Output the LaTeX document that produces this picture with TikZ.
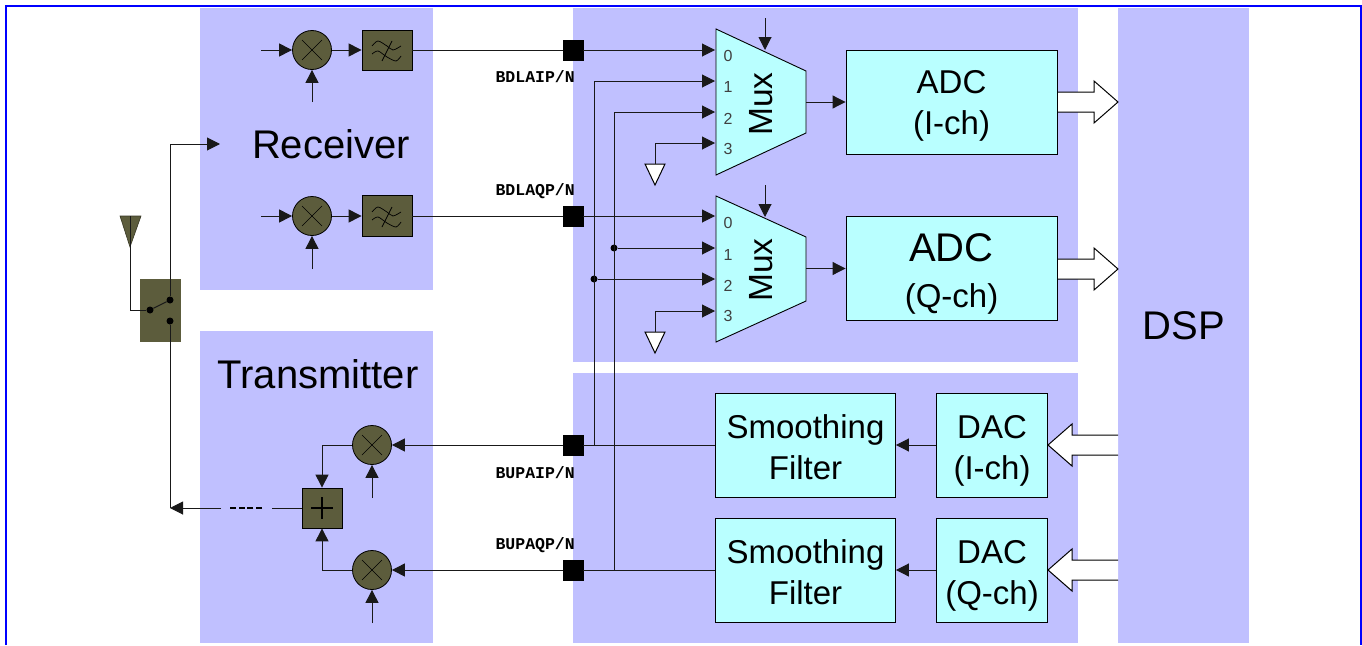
\documentclass[tikz,border=0pt]{standalone}
\usepackage{fontspec}
\setmainfont{Liberation Sans}
\setmonofont{Liberation Mono}
\usepackage{xcolor}
\definecolor{blockblue}{RGB}{192, 192, 255}
\definecolor{cellcyan}{RGB}{185, 255, 255}
\definecolor{olive}{RGB}{92, 92, 60}
\definecolor{framblue}{RGB}{0, 0, 255}
\usetikzlibrary{arrows.meta,positioning,shapes,calc}
\tikzset{
  cell/.style = {draw = black, fill = cellcyan, line width = .9pt, inner sep = 0},
  celltext/.style = {align = center, inner sep = 0, font = \fontsize{33}{41}\selectfont},
  titletext/.style = {font = \fontsize{40}{40}\selectfont},
  muxbody/.style = {draw = black, fill = cellcyan, line width = .9pt},
  muxtext/.style = {rotate = 90, font = \fontsize{33.5}{33.5}\selectfont},
  mixer/.style = {circle, draw = black, fill = olive, line width = .8pt, minimum size = 39pt, inner sep = 0},
  oliveblock/.style = {draw = black, fill = olive, line width = .8pt, inner sep = 0},
  padbox/.style = {draw = black, fill = black, minimum size = 20pt, inner sep = 0},
  padlabel/.style = {anchor = east, inner sep = 0, font = \ttfamily\bfseries\fontsize{16.5}{16.5}\selectfont},
  wire/.style = {line width = 1pt, draw = black!90},
  feed/.style = {wire, -{Triangle[length = 13pt, width = 13pt]}},
  dotnode/.style = {circle, fill = black, minimum size = 7pt, inner sep = 0},
  muxpin/.style = {font = \fontsize{16}{16}\selectfont, text = black!75},
  gndtri/.style = {draw = black, fill = white, line width = 1pt},
  bus/.style = {draw = black, fill = white, line width = 1pt}
}
\newcommand{\crossmark}[1]{
  \draw[line width = .6pt] ($(#1)+(-10,-10)$) -- ($(#1)+(10,10)$);
  \draw[line width = .6pt] ($(#1)+(-10,10)$) -- ($(#1)+(10,-10)$);
}
\newcommand{\filtermark}[1]{
  \draw[line width = .7pt, shift = {(#1)}] plot[smooth] coordinates {(-15,-4) (-9,-9) (0,-4) (6,0) (14,-4)};
  \draw[line width = .7pt, shift = {(#1)}] plot[smooth] coordinates {(-15,4) (-9,1) (0,7) (9,11) (14,6)};
  \draw[line width = .7pt, shift = {(#1)}] (-5,11) -- (5,-9);
}
\begin{document}
\begin{tikzpicture}[x = 1pt, y = -1pt]
\useasboundingbox (0,0) rectangle (1362,645);
% Frame
\draw[framblue, line width = 2pt] (6,645) -- (6,5.8) -- (1360.7,5.8) -- (1360.7,645);
% Regions
\fill[blockblue] (200,8) rectangle (433,290);
\fill[blockblue] (200,331) rectangle (433,643);
\fill[blockblue] (573,8) rectangle (1078,362);
\fill[blockblue] (573,373) rectangle (1078,643);
\fill[blockblue] (1118,8) rectangle (1249,643);
\node[titletext] (rxlabel) at (331,144) {Receiver};
\node[titletext] (txlabel) at (318,374) {Transmitter};
\node[titletext] (dsplabel) at (1184,326) {DSP};
% Receiver
\node[mixer] (rxmixi) at (312,50) {};
\node[mixer] (rxmixq) at (312,216) {};
\node[oliveblock, minimum width = 50pt, minimum height = 40pt] (rxfilti) at (387,50) {};
\node[oliveblock, minimum width = 50pt, minimum height = 41pt] (rxfiltq) at (387,216) {};
\crossmark{rxmixi}
\crossmark{rxmixq}
\filtermark{rxfilti}
\filtermark{rxfiltq}
\coordinate (rxiin) at (261,50);
\coordinate (rxqin) at (261,216);
\coordinate (rxilo) at (312,102);
\coordinate (rxqlo) at (312,269);
\draw[feed] (rxiin) -- (rxmixi);
\draw[feed] (rxqin) -- (rxmixq);
\draw[feed] (rxilo) -- (rxmixi);
\draw[feed] (rxqlo) -- (rxmixq);
\draw[feed] (rxmixi) -- (rxfilti);
\draw[feed] (rxmixq) -- (rxfiltq);
% Pads
\node[padbox] (bdlai) at (573,50) {};
\node[padbox] (bdlaq) at (573,216) {};
\node[padbox] (bupai) at (573,445) {};
\node[padbox] (bupaq) at (573,570) {};
\node[padlabel] (bdlailabel) at (575,77) {BDLAIP/N};
\node[padlabel] (bdlaqlabel) at (575,191) {BDLAQP/N};
\node[padlabel] (bupailabel) at (575,473) {BUPAIP/N};
\node[padlabel] (bupaqlabel) at (575,545) {BUPAQP/N};
\draw[wire] (rxfilti) -- (bdlai);
\draw[wire] (rxfiltq) -- (bdlaq);
% Mux
\draw[muxbody] (716,29) -- (806,71) -- (806,133) -- (716,175) -- cycle;
\draw[muxbody] (716,196) -- (806,237) -- (806,301) -- (716,342) -- cycle;
\node[muxtext] (muxilabel) at (761,104) {Mux};
\node[muxtext] (muxqlabel) at (761,270) {Mux};
\foreach \pin/\py in {0/56,1/87,2/119,3/149} {
  \node[muxpin] (muxipin\pin) at (728,\py) {\pin};
}
\foreach \pin/\py in {0/223,1/255,2/286,3/316} {
  \node[muxpin] (muxqpin\pin) at (728,\py) {\pin};
}
\coordinate (muxisel) at (765,18);
\coordinate (muxqsel) at (765,185);
\coordinate (muxiseltip) at (765,50);
\coordinate (muxqseltip) at (765,217);
\draw[feed] (muxisel) -- (muxiseltip);
\draw[feed] (muxqsel) -- (muxqseltip);
\coordinate (muxia) at (715,50);
\coordinate (muxib) at (715,81);
\coordinate (muxic) at (715,112);
\coordinate (muxid) at (715,143);
\coordinate (muxqa) at (715,216);
\coordinate (muxqb) at (715,248);
\coordinate (muxqc) at (715,279);
\coordinate (muxqd) at (715,311);
\node[dotnode] (tapq) at (614,248) {};
\node[dotnode] (tapi) at (594,279) {};
\draw[feed] (bdlai) -- (muxia);
\draw[feed] (bdlaq) -- (muxqa);
\draw[feed] (tapq) -- (muxqb);
\draw[feed] (tapi) -- (muxqc);
% Grounds
\draw[gndtri] (645,164) -- (665,164) -- (655,185) -- cycle;
\draw[gndtri] (645,332) -- (665,332) -- (655,353) -- cycle;
\coordinate (gndi) at (655,164);
\coordinate (gndq) at (655,332);
\draw[feed] (gndi) |- (muxid);
\draw[feed] (gndq) |- (muxqd);
% ADC
\node[cell, minimum width = 211pt, minimum height = 104pt] (adci) at (951.5,102) {};
\node[cell, minimum width = 211pt, minimum height = 104pt] (adcq) at (951.5,268.5) {};
\node[celltext] (adcitext) at (951.5,106) {ADC\\(I-ch)};
\node[celltext] (adcqtext) at (951.5,273.5) {\fontsize{40}{46}\selectfont ADC\\[5pt]\fontsize{33}{46}\selectfont (Q-ch)};
\coordinate (muxiout) at (806,102);
\coordinate (muxqout) at (806,268.5);
\draw[feed] (muxiout) -- (adci);
\draw[feed] (muxqout) -- (adcq);
% Buses
\draw[bus] (1058,92) -- (1094,92) -- (1094,81) -- (1118,102) -- (1094,123) -- (1094,112) -- (1058,112);
\draw[bus] (1058,259) -- (1094,259) -- (1094,248) -- (1118,269) -- (1094,290) -- (1094,279) -- (1058,279);
\draw[bus] (1118,435) -- (1072,435) -- (1072,424) -- (1048,445) -- (1072,466) -- (1072,455) -- (1118,455);
\draw[bus] (1118,560) -- (1072,560) -- (1072,549) -- (1048,570) -- (1072,591) -- (1072,580) -- (1118,580);
% DAC and filters
\node[cell, minimum width = 111pt, minimum height = 104pt] (daci) at (992,445) {};
\node[cell, minimum width = 111pt, minimum height = 104pt] (dacq) at (992,570) {};
\node[cell, minimum width = 180pt, minimum height = 104pt] (smoothi) at (805.5,445) {};
\node[cell, minimum width = 180pt, minimum height = 104pt] (smoothq) at (805.5,570) {};
\node[celltext] (dacitext) at (992,450.5) {DAC\\(I-ch)};
\node[celltext] (dacqtext) at (992,575.5) {DAC\\(Q-ch)};
\node[celltext] (smoothitext) at (805.5,447.5) {Smoothing\\Filter};
\node[celltext] (smoothqtext) at (805.5,572.5) {Smoothing\\Filter};
\draw[feed] (daci) -- (smoothi);
\draw[feed] (dacq) -- (smoothq);
\draw[wire] (smoothi) -- (bupai);
\draw[wire] (smoothq) -- (bupaq);
% Cross feed
\coordinate (bupaibend) at (594,445);
\coordinate (bupaqbend) at (614,570);
\draw[feed] (bupaibend) |- (muxib);
\draw[feed] (bupaqbend) |- (muxic);
% Transmitter
\node[mixer] (txmixi) at (372,445) {};
\node[mixer] (txmixq) at (372,570) {};
\node[oliveblock, minimum size = 40pt] (txsum) at (322,508) {};
\crossmark{txmixi}
\crossmark{txmixq}
\draw[line width = 1.3pt] ($(txsum)+(-11,0)$) -- ($(txsum)+(11,0)$);
\draw[line width = 1.3pt] ($(txsum)+(0,-11)$) -- ($(txsum)+(0,11)$);
\coordinate (txilo) at (372,498);
\coordinate (txqlo) at (372,623);
\draw[feed] (bupai) -- (txmixi);
\draw[feed] (bupaq) -- (txmixq);
\draw[feed] (txilo) -- (txmixi);
\draw[feed] (txqlo) -- (txmixq);
\draw[feed] (txmixi) -| (txsum);
\draw[feed] (txmixq) -| (txsum);
\coordinate (txgapa) at (272,508);
\coordinate (txgapb) at (262,508);
\coordinate (txgapc) at (230,508);
\coordinate (txgapd) at (221,508);
\draw[wire] (txsum) -- (txgapa);
\draw[line width = 1.6pt, dash pattern = on 6pt off 2.67pt] (txgapb) -- (txgapc);
% Antenna and switch
\node[oliveblock, draw = olive, minimum width = 40pt, minimum height = 62pt] (switch) at (160,310) {};
\node[dotnode] (swcom) at (150,310) {};
\node[dotnode] (swrx) at (170,300) {};
\node[dotnode] (swtx) at (170,321) {};
\draw[wire] (swcom) -- (swrx);
\coordinate (rxin) at (220,144);
\draw[feed] (swrx) |- (rxin);
\coordinate (txcorner) at (170,508);
\draw[wire] (swtx) -- (txcorner);
\draw[feed] (txgapd) -- (txcorner);
\draw[draw = olive!60!black, fill = olive, line width = .6pt] (120,216) -- (141,216) -- (130,247) -- cycle;
\coordinate (anttop) at (130,216);
\draw[wire] (anttop) |- (swcom);
\end{tikzpicture}
\end{document}
